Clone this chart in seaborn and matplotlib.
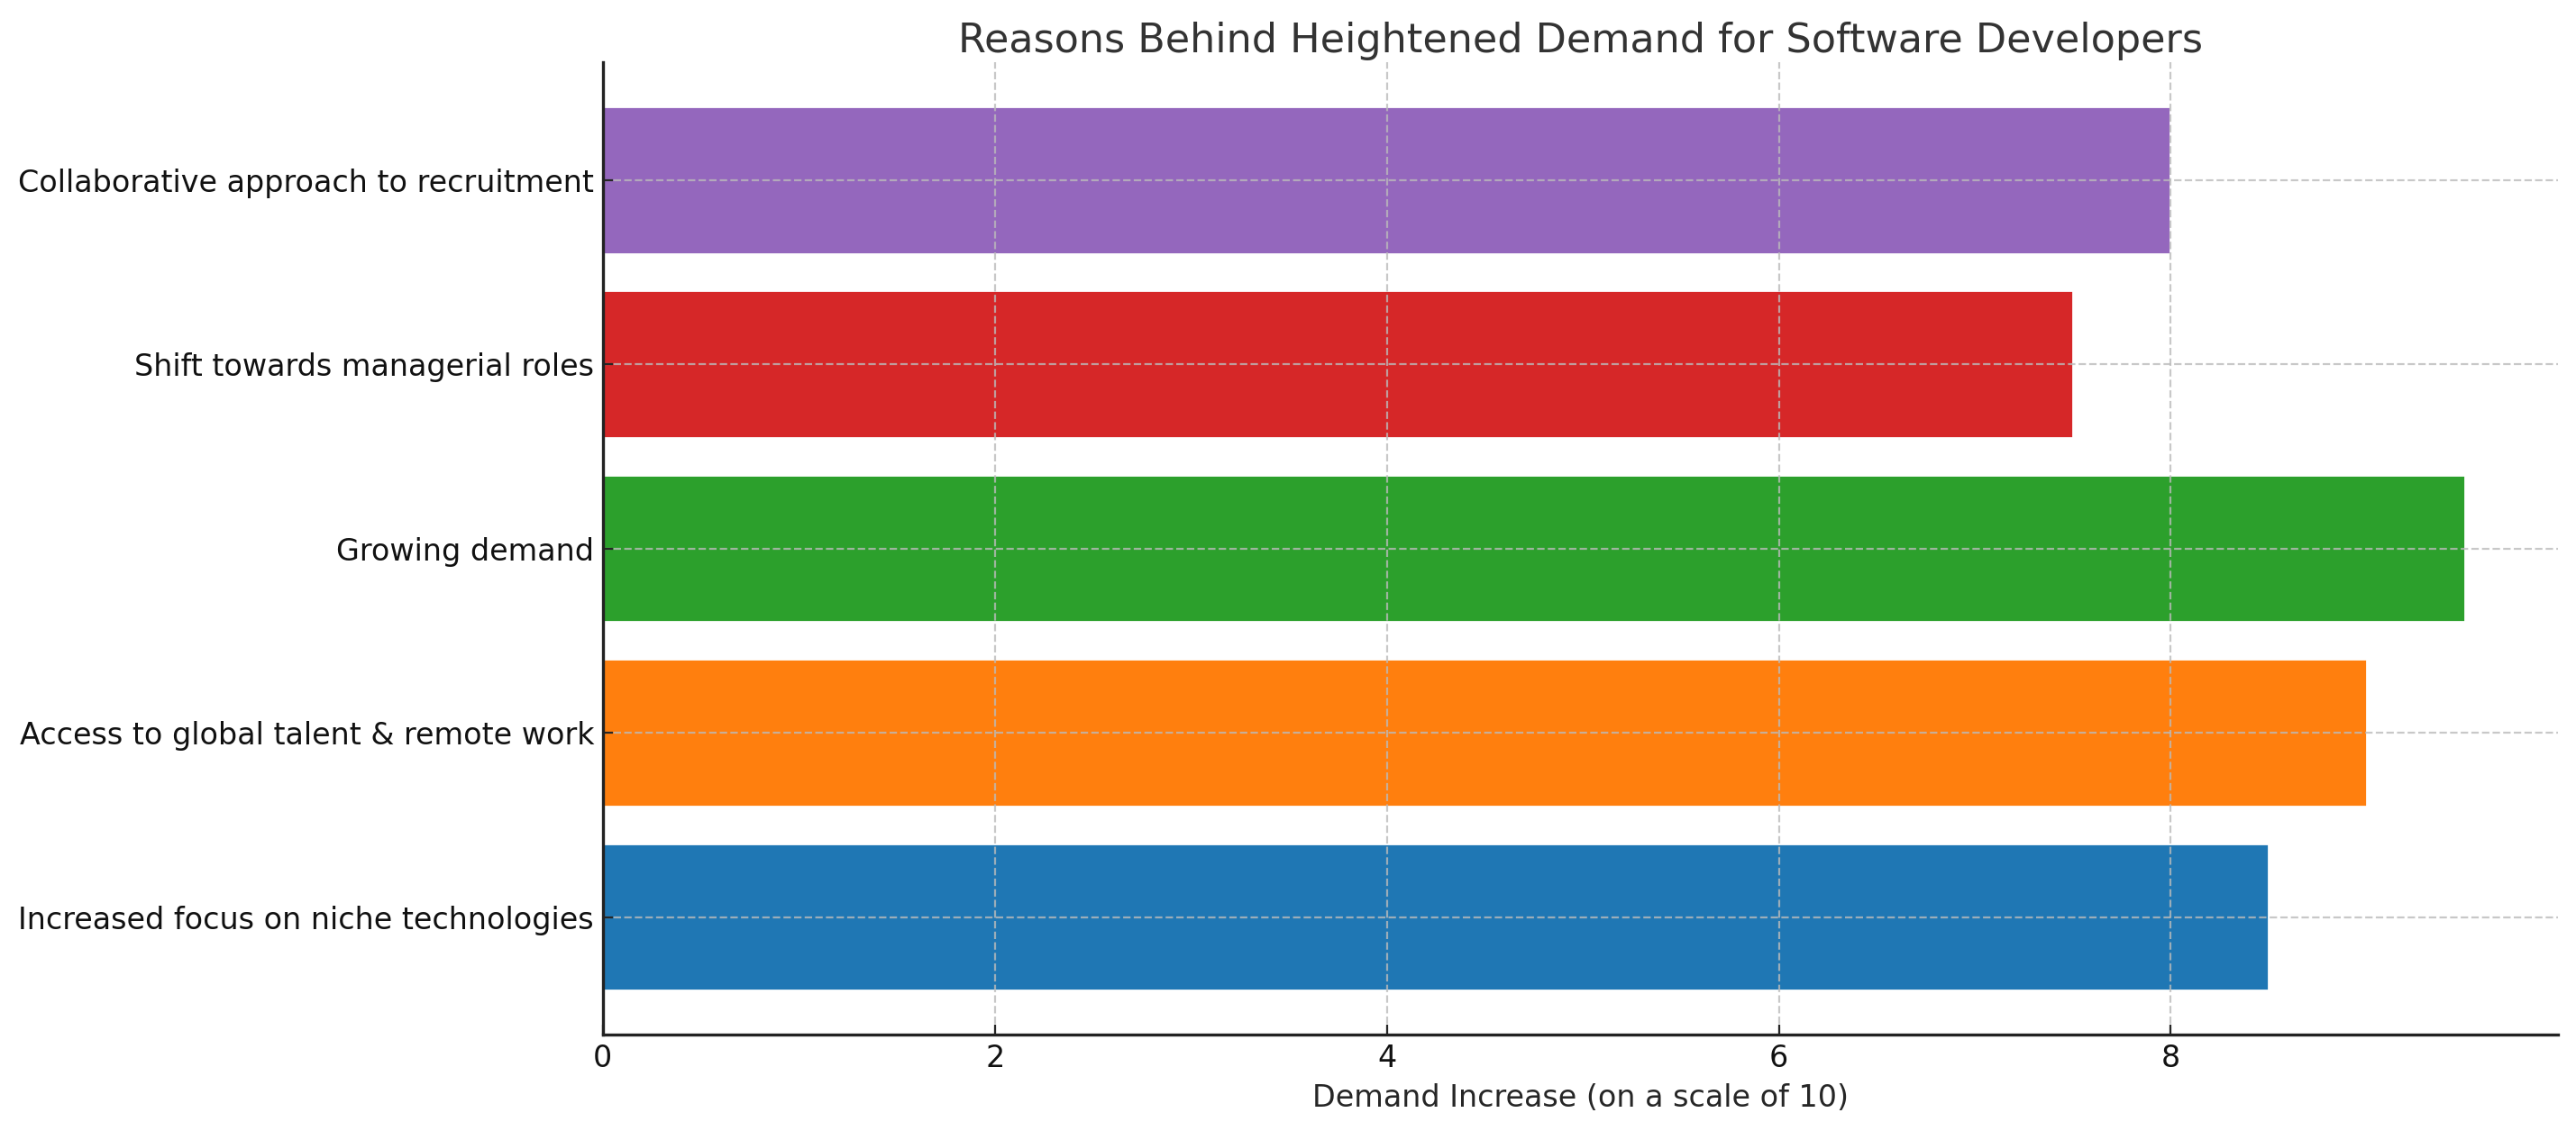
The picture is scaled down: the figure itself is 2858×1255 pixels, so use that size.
import matplotlib
matplotlib.use("Agg")
import matplotlib.pyplot as plt
import seaborn as sns
import pandas as pd

# Reasons, listed from top to bottom as they appear in the chart
reasons = [
    "Collaborative approach to recruitment",
    "Shift towards managerial roles",
    "Growing demand",
    "Access to global talent & remote work",
    "Increased focus on niche technologies",
]
scores = [8, 7.5, 9.5, 9, 8.5]
colors = ["#9467bd", "#d62728", "#2ca02c", "#ff7f0e", "#1f77b4"]

df = pd.DataFrame({"Reason": reasons, "Score": scores})

sns.set_style("white")
plt.rcParams['font.family'] = ['DejaVu Sans']

fig, ax = plt.subplots(figsize=(14.29, 6.275), dpi=200)
sns.barplot(data=df, y="Reason", x="Score", hue="Reason", palette=colors,
            orient="h", width=0.8, saturation=1, legend=False, ax=ax)

ax.set_ylim(4.64, -0.64)
ax.set_xlim(0, 9.975)
ax.grid(True, linestyle="--", color="#bbbbbb", alpha=0.8, linewidth=0.8)
ax.set_axisbelow(False)
for side in ["top", "right"]:
    ax.spines[side].set_visible(False)
for side in ["left", "bottom"]:
    ax.spines[side].set_color("#222222")
    ax.spines[side].set_linewidth(1.2)
    ax.spines[side].set_zorder(5)
ax.tick_params(direction="in", length=4, labelsize=12, left=True, bottom=True,
               labelcolor="#111111")

ax.set_title("Reasons Behind Heightened Demand for Software Developers",
             fontsize=16, color="#333333", pad=4)
ax.set_xlabel("Demand Increase (on a scale of 10)", fontsize=12)
ax.set_ylabel("")

fig.subplots_adjust(left=0.234, right=0.993, top=0.945, bottom=0.085)
plt.savefig("out.png", dpi=200)
